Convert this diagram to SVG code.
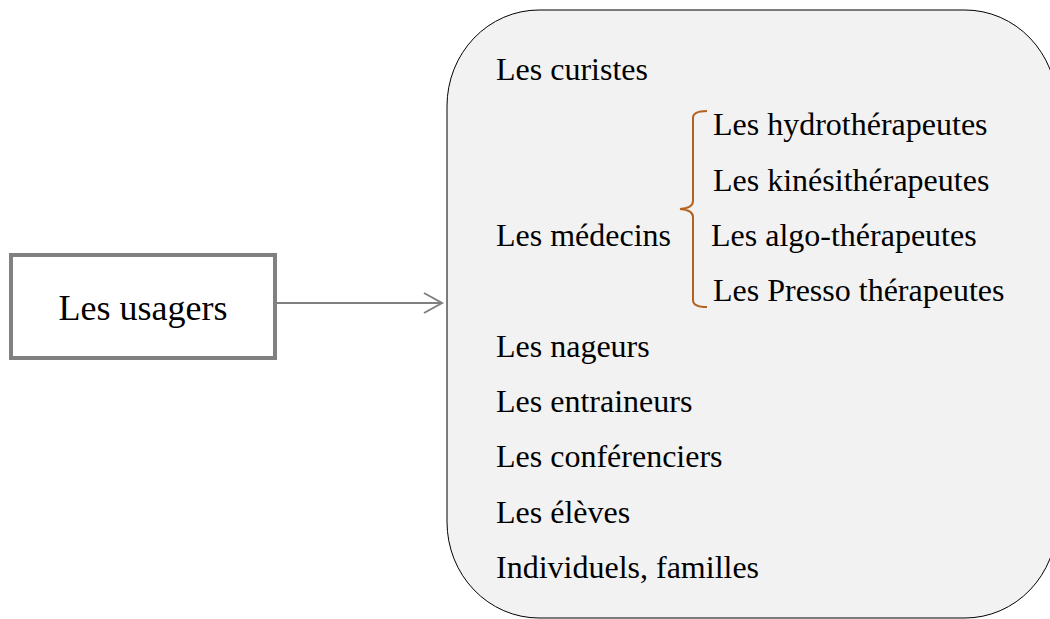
<svg xmlns="http://www.w3.org/2000/svg" width="1050" height="619" viewBox="0 0 1050 619">
<style>
.t{font-family:"Liberation Serif","Times New Roman",serif;font-size:32px;fill:#000}
.big{font-size:36px}
</style>
<defs>
<marker id="arr" markerWidth="22" markerHeight="24" refX="19" refY="11" orient="auto" markerUnits="userSpaceOnUse" viewBox="0 0 22 22">
<path d="M1,1 L19,11 L1,21" fill="none" stroke="#808080" stroke-width="2"/>
</marker>
</defs>
<rect width="1050" height="619" fill="#fff"/>
<g id="usagers">
<rect x="11" y="255" width="264" height="103" fill="#fff" stroke="#808080" stroke-width="4"/>
<text class="t big" x="143" y="320" text-anchor="middle">Les usagers</text>
</g>
<g id="connectors">
<line x1="277" y1="303" x2="442" y2="303" stroke="#808080" stroke-width="2" marker-end="url(#arr)"/>
</g>
<g id="liste">
<rect x="447" y="10" width="610" height="608" rx="92" ry="96" fill="#f2f2f2" stroke="#000" stroke-width="1"/>
<text class="t" x="496" y="80">Les curistes</text>
<text class="t" x="713" y="135">Les hydrothérapeutes</text>
<text class="t" x="713" y="190.5">Les kinésithérapeutes</text>
<text class="t" x="496" y="246">Les médecins</text>
<text class="t" x="711" y="246">Les algo-thérapeutes</text>
<text class="t" x="713" y="301">Les Presso thérapeutes</text>
<text class="t" x="496" y="356.5">Les nageurs</text>
<text class="t" x="496" y="412">Les entraineurs</text>
<text class="t" x="496" y="467">Les conférenciers</text>
<text class="t" x="496" y="522.5">Les élèves</text>
<text class="t" x="496" y="578">Individuels, familles</text>
<path d="M707,111 Q693,111 693,118 L693,201 Q693,208 680,209 Q693,210 693,217 L693,300 Q693,307 707,307" fill="none" stroke="#b5621f" stroke-width="2"/>
</g>
</svg>
